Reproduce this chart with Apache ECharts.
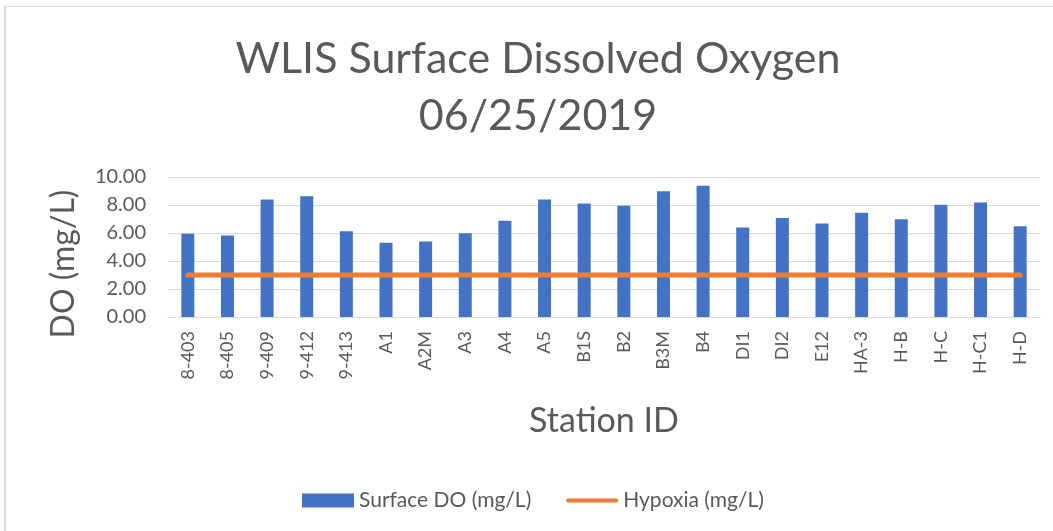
<!DOCTYPE html>
<html>
<head>
<meta charset="utf-8">
<script src="https://cdn.jsdelivr.net/npm/echarts@6/dist/echarts.min.js"></script>
<style>
    html, body { margin: 0; padding: 0; background: #fff; }
    #chart { width: 1053px; height: 531px; }
    #frame { position: absolute; left: 4px; top: 6px; right: -10px; bottom: -10px;
             border-top: 1px solid #d9d9d9; border-left: 2px solid #d9d9d9; pointer-events: none; }
</style>
</head>
<body>
<div id="chart"></div>
<div id="frame"></div>
<script>
    var stations = ['8-403', '8-405', '9-409', '9-412', '9-413', 'A1', 'A2M', 'A3', 'A4', 'A5', 'B1S',
        'B2', 'B3M', 'B4', 'DI1', 'DI2', 'E12', 'HA-3', 'H-B', 'H-C', 'H-C1', 'H-D'];
    var surfaceDO = [5.95, 5.83, 8.4, 8.62, 6.12, 5.31, 5.4, 5.98, 6.88, 8.4, 8.1,
        7.95, 8.98, 9.38, 6.4, 7.07, 6.67, 7.45, 6.98, 8.02, 8.17, 6.48];
    var hypoxia = [3, 3, 3, 3, 3, 3, 3, 3, 3, 3, 3, 3, 3, 3, 3, 3, 3, 3, 3, 3, 3, 3];

    var font = 'Lato, "Open Sans", sans-serif';
    var grey = '#595959';

    var myChart = echarts.init(document.getElementById('chart'));
    var option = {
        animation: false,
        title: {
            text: 'WLIS Surface Dissolved Oxygen\n06/25/2019',
            left: 533,
            textAlign: 'center',
            top: 26,
            textStyle: {
                fontFamily: font,
                fontWeight: 'normal',
                fontSize: 43,
                lineHeight: 57,
                color: grey
            }
        },
        legend: {
            left: 297,
            top: 485,
            itemGap: 35,
            itemWidth: 52,
            itemHeight: 14,
            textStyle: { fontFamily: font, fontSize: 21, color: grey },
            data: [
                { name: 'Surface DO (mg/L)', icon: 'rect' },
                {
                    name: 'Hypoxia (mg/L)',
                    icon: 'path://M2,0 L50,0 A2,2 0 0 1 50,4 L2,4 A2,2 0 0 1 2,0 Z',
                    itemStyle: { color: '#ED7D31' }
                }
            ]
        },
        grid: {
            left: 168,
            right: 13,
            top: 177,
            bottom: 214
        },
        xAxis: {
            type: 'category',
            data: stations,
            name: 'Station ID',
            nameLocation: 'middle',
            nameGap: 87,
            nameTextStyle: { fontFamily: font, fontSize: 34, color: grey },
            axisLine: { lineStyle: { color: '#d9d9d9', width: 1 } },
            axisTick: { show: false },
            axisLabel: {
                rotate: 90,
                interval: 0,
                margin: 14,
                fontFamily: font,
                fontSize: 18,
                color: grey
            }
        },
        yAxis: {
            type: 'value',
            min: 0,
            max: 10,
            interval: 2,
            name: 'DO (mg/L)',
            nameLocation: 'middle',
            nameGap: 88,
            nameTextStyle: { fontFamily: font, fontSize: 32, color: grey, padding: [0, 34, 0, 0] },
            axisLine: { show: false },
            axisTick: { show: false },
            splitLine: { lineStyle: { color: '#d9d9d9', width: 1 } },
            axisLabel: {
                margin: 22,
                fontFamily: font,
                fontSize: 20,
                color: grey,
                formatter: function (value) {
                    return value.toFixed(2);
                }
            }
        },
        series: [
            {
                name: 'Surface DO (mg/L)',
                type: 'bar',
                data: surfaceDO,
                barWidth: 13,
                itemStyle: { color: '#4472C4' }
            },
            {
                name: 'Hypoxia (mg/L)',
                type: 'line',
                data: hypoxia,
                symbol: 'none',
                lineStyle: { color: '#ED7D31', width: 5, cap: 'round' },
                itemStyle: { color: '#ED7D31' }
            }
        ]
    };
    myChart.setOption(option);
</script>
</body>
</html>
